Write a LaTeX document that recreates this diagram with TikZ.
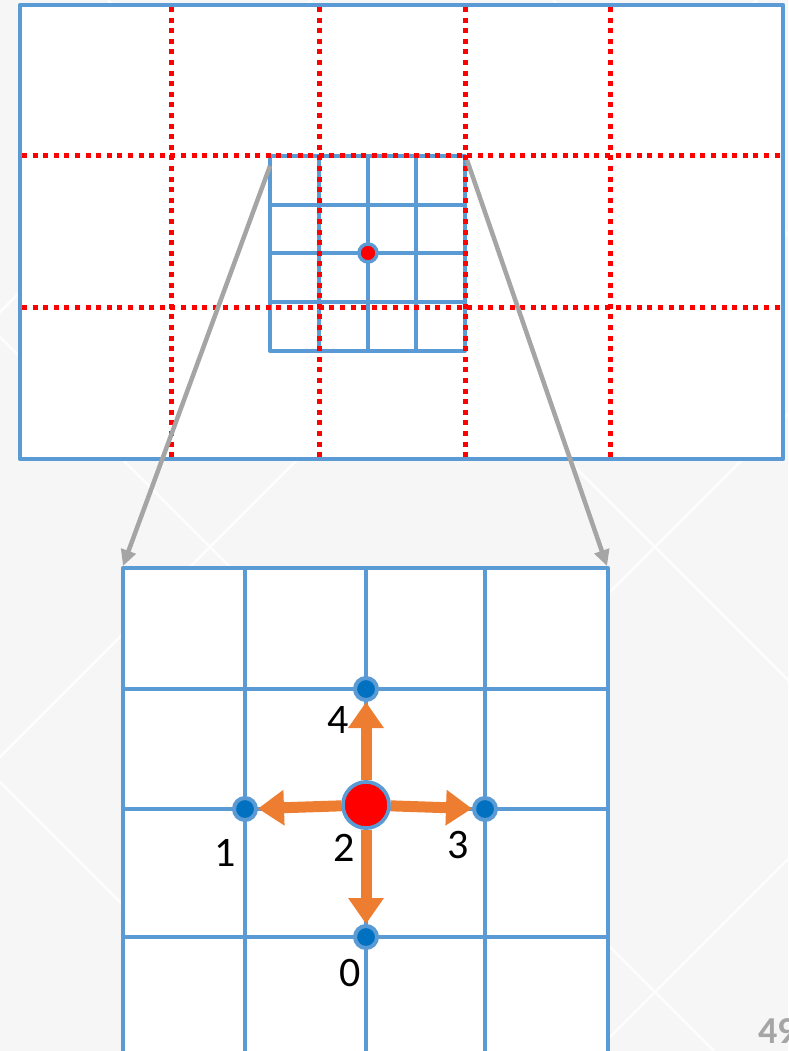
\documentclass[tikz,border=0pt]{standalone}
\usepackage{fontspec}
\setmainfont{Carlito}
\usetikzlibrary{arrows.meta}
\definecolor{gridblue}{HTML}{5B9BD5}
\definecolor{dotblue}{HTML}{0070C0}
\definecolor{moveorange}{HTML}{ED7D31}
\definecolor{arrowgrey}{HTML}{A5A5A5}
\definecolor{slidebg}{HTML}{F6F6F6}

\begin{document}
\begin{tikzpicture}[x=1pt, y=-1pt,
  frame/.style={draw=gridblue, line width=4.5pt, line join=round, fill=white},
  gline/.style={draw=gridblue, line width=4pt, line cap=round},
  cut/.style={draw=red, line width=5pt, dash pattern=on 5pt off 5.6pt},
  zoomar/.style={draw=arrowgrey, line width=4.5pt, -{Triangle[length=16pt, width=15pt]}},
  move/.style={draw=moveorange, line width=11pt, -{Triangle[length=26pt, width=34pt]}},
  nb/.style={circle, fill=dotblue, draw=gridblue, line width=4pt, minimum size=22pt, inner sep=0pt},
  ctr/.style={circle, fill=red, draw=gridblue, line width=3.5pt, minimum size=#1, inner sep=0pt},
  lbl/.style={font=\fontsize{42}{42}\selectfont, text=black, inner sep=0pt},
  pgnum/.style={font=\fontsize{38}{38}\selectfont\bfseries, text=arrowgrey, inner sep=0pt}]
\useasboundingbox (0,0) rectangle (788,1051);
\fill[slidebg] (0,0) rectangle (788,1051);
\begin{scope}
\clip (0,0) rectangle (788,1051);
\foreach \c in {-133,312,757,1202,1647}
  \draw[white, line width=2.5pt, opacity=0.8] (\c,0) -- (\c-1051,1051);
\foreach \c in {-782,-337,108,553}
  \draw[white, line width=2.5pt, opacity=0.8] (\c,0) -- (\c+1051,1051);
\end{scope}
\draw[frame] (20,5) rectangle (783,459);
\foreach \x in {319,368,416}
  \draw[gline] (\x,156) -- (\x,351);
\foreach \y in {205,253,302}
  \draw[gline] (270,\y) -- (465,\y);
\draw[gline, line join=round] (270,156) rectangle (465,351);
\foreach \x in {171,319,465,610}
  \draw[cut] (\x,7) -- (\x,459);
\foreach \y in {156,307}
  \draw[cut] (22,\y) -- (783,\y);
\node[ctr=18pt] (pt) at (368,253) {};
\coordinate (sgl) at (270,166);
\coordinate (sgr) at (467,160);
\draw[frame] (123,568) rectangle (608,1060);
\foreach \x in {245,366,485}
  \draw[gline] (\x,568) -- (\x,1060);
\foreach \y in {689,809,937}
  \draw[gline] (123,\y) -- (608,\y);
\coordinate (bgl) at (123,566);
\coordinate (bgr) at (607,566);
\draw[zoomar] (sgl) -- (bgl);
\draw[zoomar] (sgr) -- (bgr);
\node[nb] (d4) at (366,689) {};
\node[nb] (d1) at (245,809) {};
\node[nb] (d3) at (485,809) {};
\node[nb] (d0) at (366,937) {};
\node[ctr=46pt] (c) at (366,805) {};
\foreach \d in {d4,d1,d3,d0}
  \draw[move] (c) -- (\d);
\node[ctr=46pt] at (c) {};
\node[lbl] (l4) at (338,720) {4};
\node[lbl] (l1) at (225,853) {1};
\node[lbl] (l2) at (344,848) {2};
\node[lbl] (l3) at (458,845) {3};
\node[lbl] (l0) at (350,973) {0};
\node[pgnum, anchor=base west] (pg) at (758,1043) {49};
\end{tikzpicture}
\end{document}
